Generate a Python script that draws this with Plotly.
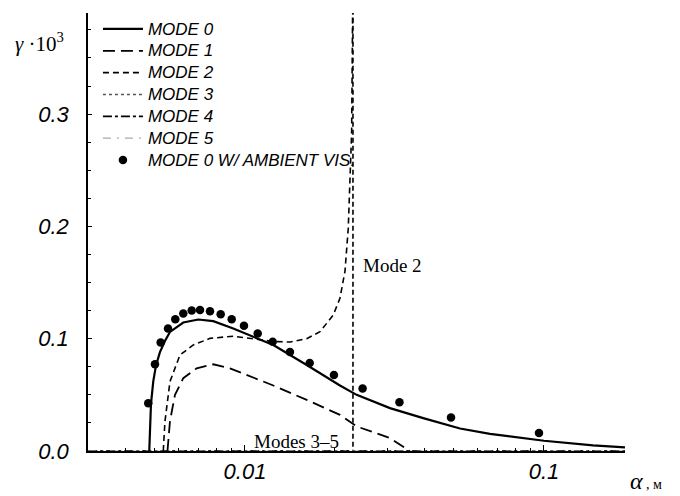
import plotly.graph_objects as go

# ---- data (alpha in m, gamma * 1e3) ----
mode0_x = [0.004785, 0.004796, 0.004812, 0.004849, 0.004935, 0.005038, 0.005195, 0.005400,
           0.005612, 0.006218, 0.006980, 0.007834, 0.009139, 0.01244, 0.01609, 0.02078,
           0.02363, 0.03054, 0.03946, 0.05237, 0.06598, 0.1, 0.1459, 0.1866]
mode0_y = [0.0, 0.012, 0.026, 0.042, 0.062, 0.076, 0.088, 0.098,
           0.106, 0.1144, 0.1171, 0.1156, 0.1091, 0.0943, 0.0766, 0.0583,
           0.0500, 0.0382, 0.0293, 0.0200, 0.0152, 0.0091, 0.0050, 0.0033]

mode1_x = [0.005506, 0.005612, 0.005833, 0.006218, 0.006895, 0.007834, 0.008909, 0.009623,
           0.01244, 0.01609, 0.02078, 0.02363, 0.03054, 0.03562]
mode1_y = [0.0, 0.0266, 0.0500, 0.0648, 0.0736, 0.0772, 0.0736, 0.0701,
           0.0583, 0.0455, 0.0322, 0.0219, 0.0115, 0.0]

mode2_x = [0.005330, 0.005400, 0.005612, 0.006062, 0.006717, 0.007638, 0.009139, 0.01094,
           0.01244, 0.01414, 0.01609, 0.01782, 0.01973, 0.02078, 0.02160, 0.02215, 0.02244,
           0.02274, 0.02292]
mode2_y = [0.0, 0.0264, 0.0618, 0.0855, 0.0944, 0.1003, 0.1022, 0.0995,
           0.0975, 0.0970, 0.1000, 0.1062, 0.1210, 0.1360, 0.1600, 0.1980, 0.2450,
           0.2840, 0.40]

mode2_pole_x = [0.02297, 0.02297]
mode2_pole_y = [0.40, 0.0]

modes345_x = [0.00299, 0.1866]
modes345_y = [0.0, 0.0]

amb_x = [0.004749, 0.005000, 0.005224, 0.005528, 0.005847, 0.006218, 0.006634, 0.007073,
         0.007638, 0.008293, 0.009027, 0.009923, 0.01103, 0.01238, 0.01414, 0.01646,
         0.01984, 0.02474, 0.03286, 0.04887, 0.09623]
amb_y = [0.0426, 0.0772, 0.0967, 0.1091, 0.1174, 0.1224, 0.1251, 0.1256,
         0.1245, 0.1218, 0.1174, 0.1115, 0.1047, 0.0973, 0.0881, 0.0784,
         0.0677, 0.0556, 0.0435, 0.0299, 0.0160]

legend_names = ["MODE 0", "MODE 1", "MODE 2", "MODE 3", "MODE 4", "MODE 5",
                "MODE 0 W/ AMBIENT VIS."]

x_tickvals = [0.01, 0.1]
x_ticktext = ["0.01", "0.1"]
x_minor = [0.003, 0.004, 0.005, 0.006, 0.007, 0.008, 0.009,
           0.02, 0.03, 0.04, 0.05, 0.06, 0.07, 0.08, 0.09, 0.2]
y_tickvals = [0.0, 0.1, 0.2, 0.3]
y_ticktext = ["0.0", "0.1", "0.2", "0.3"]


def lname(s):
    return "<span style='font-size:17px'>" + s + "</span>"


fig = go.Figure()
fig.add_trace(go.Scatter(x=mode0_x, y=mode0_y, mode="lines", name=lname(legend_names[0]),
                         line=dict(color="black", width=2.2)))
fig.add_trace(go.Scatter(x=mode1_x, y=mode1_y, mode="lines", name=lname(legend_names[1]),
                         line=dict(color="black", width=1.8, dash="12px,6px")))
fig.add_trace(go.Scatter(x=mode2_x, y=mode2_y, mode="lines", name=lname(legend_names[2]),
                         line=dict(color="black", width=1.6, dash="6px,4px")))
fig.add_trace(go.Scatter(x=mode2_pole_x, y=mode2_pole_y, mode="lines", showlegend=False,
                         line=dict(color="black", width=1.6, dash="5px,3px")))
fig.add_trace(go.Scatter(x=modes345_x, y=modes345_y, mode="lines", name=lname(legend_names[3]),
                         line=dict(color="#555555", width=1.4, dash="dot")))
fig.add_trace(go.Scatter(x=modes345_x, y=modes345_y, mode="lines", name=lname(legend_names[4]),
                         line=dict(color="black", width=1.6, dash="9px,3px,3px,3px")))
fig.add_trace(go.Scatter(x=modes345_x, y=modes345_y, mode="lines", name=lname(legend_names[5]),
                         line=dict(color="#aaaaaa", width=1.2, dash="8px,6px,2px,6px")))
fig.add_trace(go.Scatter(x=amb_x, y=amb_y, mode="markers", name=lname(legend_names[6]),
                         marker=dict(color="black", size=8.5)))

tickfont = dict(family="Liberation Sans", size=22, color="black", style="italic")

fig.update_layout(
    width=680, height=496,
    margin=dict(l=88, r=55, t=13, b=43),
    paper_bgcolor="white", plot_bgcolor="white",
    legend=dict(x=0.0185, y=1.0, xanchor="left", yanchor="top",
                bgcolor="rgba(0,0,0,0)", tracegroupgap=0, itemwidth=40,
                font=dict(family="Liberation Sans", size=14.5, color="black", style="italic")),
    xaxis=dict(type="log", range=[-2.525, -0.729],
               tickmode="array", tickvals=x_tickvals, ticktext=x_ticktext,
               ticks="inside", ticklen=6, tickwidth=1, tickcolor="black",
               showline=True, linecolor="black", linewidth=1.5,
               showgrid=False, zeroline=False, tickfont=tickfont,
               minor=dict(tickmode="array", tickvals=x_minor, ticks="inside",
                          ticklen=3, tickcolor="black", showgrid=False)),
    yaxis=dict(range=[0, 0.39],
               tickmode="array", tickvals=y_tickvals, ticktext=y_ticktext,
               ticks="inside", ticklen=4, tickwidth=1, tickcolor="black",
               showline=True, linecolor="black", linewidth=1.5,
               showgrid=False, zeroline=False, tickfont=tickfont, ticklabelstandoff=13,
               minor=dict(dtick=0.025, ticks="inside", ticklen=3, tickcolor="black",
                          showgrid=False)),
    showlegend=True,
)

serif = "Liberation Serif"
fig.add_annotation(xref="paper", yref="paper", x=-0.0894, y=0.932, xanchor="center",
                   yanchor="middle", showarrow=False,
                   text="<i>γ</i> ·10<sup>3</sup>", font=dict(family=serif, size=21, color="black"))
fig.add_annotation(xref="paper", yref="paper", x=0.5084, y=0.4227, xanchor="left",
                   yanchor="middle", showarrow=False,
                   text="Mode 2", font=dict(family=serif, size=19, color="black"))
fig.add_annotation(xref="paper", yref="paper", x=0.305, y=0.0227, xanchor="left",
                   yanchor="middle", showarrow=False,
                   text="Modes 3–5", font=dict(family=serif, size=19, color="black"))
fig.add_annotation(xref="paper", yref="paper", x=1.0056, y=-0.068, xanchor="left",
                   yanchor="middle", showarrow=False,
                   text="<i>α</i><span style='font-size:14px'> , м</span>",
                   font=dict(family=serif, size=24, color="black"))

fig.write_html("out.html")
